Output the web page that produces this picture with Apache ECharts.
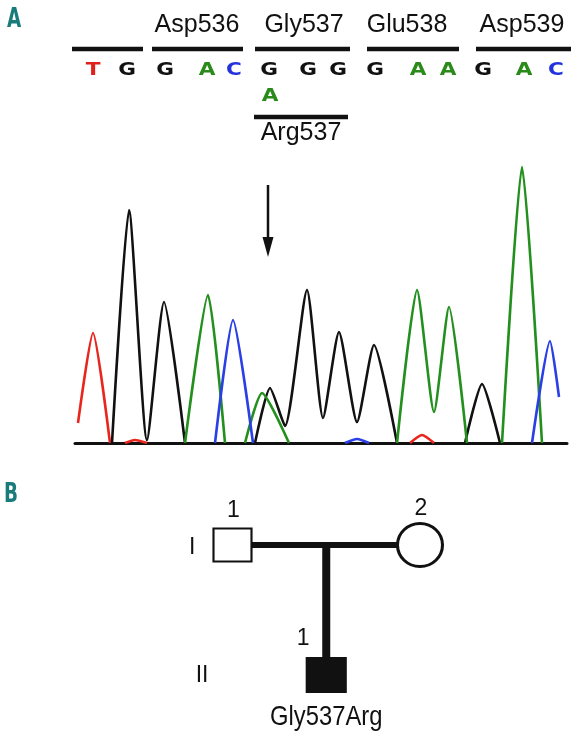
<!DOCTYPE html>
<html>
<head>
<meta charset="utf-8">
<script src="https://cdn.jsdelivr.net/npm/echarts@6/dist/echarts.min.js"></script>
<style>
  html, body { margin: 0; padding: 0; background: #fff; }
  #main { width: 586px; height: 736px; }
</style>
</head>
<body>
<div id="main"></div>
<script>
// sequence annotation (x = trace scan position)
const codonNames = ['Asp536', 'Gly537', 'Glu538', 'Asp539']
const codonCenters = [122, 229, 332, 447]
const codonSpans = [[-3, 68], [77, 168], [180, 275], [292, 384], [401, 496]]
const bases = ['T', 'G', 'G', 'A', 'C', 'G', 'G', 'G', 'G', 'A', 'A', 'G', 'A', 'C']
const basePos = [18, 52, 90, 132, 159, 194, 233, 263, 300, 343, 373, 408, 449, 481]
const altBase = 'A'
const altPos = 195
const altCodon = 'Arg537'
const altSpan = [179, 273]
const mutationPos = 193

// chromatogram traces, [scan, signal], one list of peaks per dye
const traceT = [
    [[3, 20], [18, 110], [35, 0]],
    [[50, 0], [60, 3], [72, 0]],
    [[335, 0], [347, 8], [359, 0]]
]
const traceG = [
    [[37, 0], [54, 233], [72, 3], [89, 141], [110, 0]],
    [[180, 0], [195, 55], [210, 17], [232, 153], [248, 25], [264, 111], [282, 21], [299, 98], [322, 0]],
    [[390, 0], [407, 59], [425, 0]]
]
const traceA = [
    [[110, 0], [133, 148], [150, 0]],
    [[170, 0], [187, 50], [214, 0]],
    [[322, 0], [342, 153], [359, 31], [374, 136], [392, 0]],
    [[427, 0], [447, 276], [467, 0]]
]
const traceC = [
    [[140, 0], [158, 123], [178, 0]],
    [[270, 0], [282, 4], [294, 0]],
    [[457, 0], [475, 102], [484, 46]]
]

// pedigree
const pedNumbers = ['1', '2', '1']
const pedPos = [0, 2, 1]
const pedGen = [1, 1, 2]
const pedSex = ['M', 'F', 'M']
const pedAffected = [false, false, true]
const pedGenotype = ['', '', 'Gly537Arg']
const generations = ['I', 'II']
const generationPos = [-0.43, -0.325]

const baseColors = { A: '#2a8a1a', C: '#2233dd', G: '#111111', T: '#e0201a' }
const dyeColors = { A: '#23901e', C: '#2a3fe6', G: '#111111', T: '#e8261e' }
const teal = '#1a7b7b'
const font = 'Liberation Sans'

const myChart = echarts.init(document.getElementById('main'))

// text drawn at data coords, dx/dy in pixels
function textLayer(gridIndex, items) {
    return {
        type: 'custom',
        xAxisIndex: gridIndex,
        yAxisIndex: gridIndex,
        silent: true,
        z: 10,
        data: items.map(d => [d.x, d.y]),
        renderItem: (params, api) => {
            const d = items[params.dataIndex]
            const p = api.coord([api.value(0), api.value(1)])
            return {
                type: 'text',
                x: p[0] + (d.dx || 0),
                y: p[1] + (d.dy || 0),
                scaleX: d.scaleX || 1,
                style: {
                    text: d.text,
                    fill: d.color || '#111',
                    font: d.font,
                    align: 'center',
                    verticalAlign: 'middle',
                    textAlign: 'center',
                    textVerticalAlign: 'middle'
                }
            }
        }
    }
}

const series = []

// --- annotation rows (grid 0)
series.push({
    type: 'custom',
    xAxisIndex: 0,
    yAxisIndex: 0,
    data: codonSpans.map(s => [s[0], s[1], 49]).concat([[altSpan[0], altSpan[1], 117]]),
    encode: { x: [0, 1], y: 2 },
    renderItem: (params, api) => {
        const p0 = api.coord([api.value(0), api.value(2)])
        const p1 = api.coord([api.value(1), api.value(2)])
        return {
            type: 'line',
            shape: { x1: p0[0], y1: p0[1], x2: p1[0], y2: p1[1] },
            style: { stroke: '#111', lineWidth: 4.5 }
        }
    },
    silent: true
})

const headerFont = '25px ' + font
const baseFont = 'bold 18px DejaVu Sans'
series.push(textLayer(0,
    codonNames.map((n, i) => ({ text: n, x: codonCenters[i], y: 25, font: headerFont }))
        .concat([{ text: altCodon, x: (altSpan[0] + altSpan[1]) / 2, y: 133, font: headerFont }])
        .concat(bases.map((b, i) => ({ text: b, x: basePos[i], y: 70, font: baseFont, color: baseColors[b], scaleX: 1.2 })))
        .concat([{ text: altBase, x: altPos, y: 96, font: baseFont, color: baseColors[altBase], scaleX: 1.2 }])
))

// --- chromatogram (grid 1)
const traces = [['T', traceT], ['G', traceG], ['A', traceA], ['C', traceC]]
traces.forEach(([dye, peaks]) => {
    peaks.forEach(pts => {
        series.push({
            type: 'line',
            xAxisIndex: 1,
            yAxisIndex: 1,
            data: pts,
            symbol: 'none',
            smooth: 0.2,
            lineStyle: { color: dyeColors[dye], width: 2.6 },
            silent: true,
            z: 3
        })
    })
})

// arrow at the mutation
series.push({
    type: 'line',
    xAxisIndex: 1,
    yAxisIndex: 1,
    data: [[mutationPos, 258], [mutationPos, 200]],
    symbol: 'none',
    lineStyle: { color: '#111', width: 2.5 },
    silent: true
})
series.push({
    type: 'scatter',
    xAxisIndex: 1,
    yAxisIndex: 1,
    data: [[mutationPos, 196]],
    symbol: 'triangle',
    symbolRotate: 180,
    symbolSize: [11, 20],
    itemStyle: { color: '#111', opacity: 1 },
    silent: true
})

// --- pedigree (grid 2)
series.push({
    type: 'line',
    xAxisIndex: 2,
    yAxisIndex: 2,
    data: [[pedPos[0], pedGen[0]], [pedPos[1], pedGen[1]]],
    symbol: 'none',
    lineStyle: { color: '#111', width: 6 },
    silent: true
})
series.push({
    type: 'line',
    xAxisIndex: 2,
    yAxisIndex: 2,
    data: [[(pedPos[0] + pedPos[1]) / 2, 1], [pedPos[2], pedGen[2]]],
    symbol: 'none',
    lineStyle: { color: '#111', width: 8 },
    silent: true
})
const numDistance = [5, 1.5, 6.5]
series.push({
    type: 'scatter',
    xAxisIndex: 2,
    yAxisIndex: 2,
    z: 5,
    data: pedNumbers.map((n, i) => ({
        name: n,
        value: [pedPos[i], pedGen[i]],
        symbol: pedSex[i] === 'M' ? 'rect' : 'circle',
        symbolSize: pedSex[i] === 'M' ? (pedAffected[i] ? [39, 34] : [38, 33]) : [45, 43],
        itemStyle: {
            color: pedAffected[i] ? '#111' : '#fff',
            borderColor: '#111',
            borderWidth: pedSex[i] === 'M' ? 2 : 3,
            opacity: 1
        },
        label: { distance: numDistance[i], offset: pedGen[i] === 2 ? [-23, 0] : [1, 0] }
    })),
    label: {
        show: true,
        position: 'top',
        color: '#111',
        fontFamily: font,
        fontSize: 23,
        formatter: p => p.data.name
    },
    silent: true
})
series.push(textLayer(2,
    pedGenotype.map((g, i) => ({ text: g, x: pedPos[i], y: pedGen[i], dy: 42, font: '28px ' + font, scaleX: 0.85 }))
        .filter(d => d.text)
        .concat(generations.map((g, i) => ({ text: g, x: generationPos[i], y: i + 1, dy: i ? 1 : 3, font: '23px ' + font })))
))

const hiddenAxis = (min, max, inverse) => ({
    type: 'value', min: min, max: max, inverse: !!inverse, show: false,
    splitLine: { show: false }
})

const panelLetter = (text, x, y) => ({
    type: 'text', x: x, y: y, scaleX: 0.68,
    style: {
        text: text, fill: teal, font: 'bold 27px DejaVu Sans',
        align: 'center', verticalAlign: 'middle', textAlign: 'center', textVerticalAlign: 'middle'
    }
})

let option = {
    animation: false,
    backgroundColor: '#fff',
    graphic: [panelLetter('A', 14, 20), panelLetter('B', 11, 495)],
    grid: [
        { left: 60, width: 520, top: 0, height: 150 },
        { left: 75, width: 492, top: 163, height: 280 },
        { left: 138.75, width: 375, top: 493, height: 234 }
    ],
    xAxis: [
        hiddenAxis(-15, 505),
        {
            type: 'value', gridIndex: 1, min: 0, max: 492,
            axisLine: { show: true, lineStyle: { color: '#111', width: 3 } },
            axisTick: { show: false }, axisLabel: { show: false }, splitLine: { show: false }
        },
        Object.assign(hiddenAxis(-1, 3), { gridIndex: 2 })
    ],
    yAxis: [
        hiddenAxis(0, 150, true),
        Object.assign(hiddenAxis(0, 280), { gridIndex: 1 }),
        Object.assign(hiddenAxis(0.6, 2.4, true), { gridIndex: 2 })
    ],
    series: series
}
option && myChart.setOption(option)
</script>
</body>
</html>
